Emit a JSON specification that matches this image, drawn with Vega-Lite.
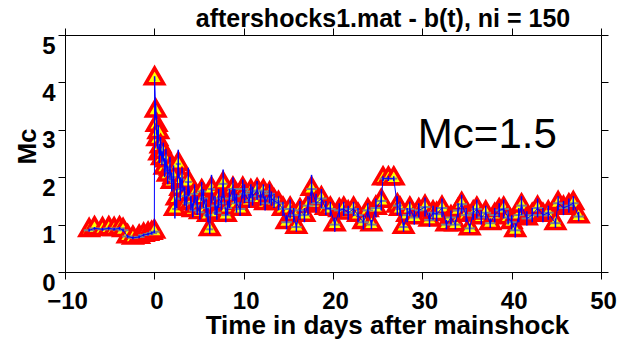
{
"$schema": "https://vega.github.io/schema/vega-lite/v6.json",
"width": 536, "height": 237,
"autosize": {"type": "none"},
"padding": {"left": 65, "top": 35, "right": 31, "bottom": 67},
"background": "white",
"title": {"text": "aftershocks1.mat - b(t), ni = 150", "font": "Liberation Sans", "fontSize": 25, "fontWeight": "bold", "color": "black", "anchor": "middle", "dx": 50, "dy": 12, "offset": 8, "frame": "group"},
"config": {"view": {"stroke": "black", "strokeWidth": 1},
  "axis": {"domainColor": "black", "tickColor": "black", "labelColor": "black", "titleColor": "black", "labelFont": "Liberation Sans", "titleFont": "Liberation Sans", "labelFontWeight": "bold", "titleFontWeight": "bold", "labelFontSize": 24, "titleFontSize": 26, "tickSize": 7, "grid": false}},
"data": {"values": [
{"t":-7.3,"mc":0.88,"lo":0.85,"hi":0.91,"t0":-7.9,"t1":-6.7},
{"t":-6.7,"mc":0.92,"lo":0.89,"hi":0.95,"t0":-7.3,"t1":-6.1},
{"t":-5.8,"mc":0.90,"lo":0.87,"hi":0.93,"t0":-6.4,"t1":-5.2},
{"t":-5.1,"mc":0.92,"lo":0.89,"hi":0.95,"t0":-5.7,"t1":-4.5},
{"t":-4.5,"mc":0.90,"lo":0.87,"hi":0.93,"t0":-5.1,"t1":-3.9},
{"t":-3.9,"mc":0.92,"lo":0.89,"hi":0.95,"t0":-4.5,"t1":-3.3},
{"t":-3.5,"mc":0.88,"lo":0.85,"hi":0.91,"t0":-4.1,"t1":-2.9},
{"t":-3.0,"mc":0.75,"lo":0.72,"hi":0.78,"t0":-3.6,"t1":-2.4},
{"t":-2.4,"mc":0.72,"lo":0.69,"hi":0.75,"t0":-3.0,"t1":-1.8},
{"t":-1.7,"mc":0.74,"lo":0.71,"hi":0.77,"t0":-2.3,"t1":-1.1},
{"t":-1.2,"mc":0.78,"lo":0.75,"hi":0.81,"t0":-1.8,"t1":-0.6},
{"t":-0.7,"mc":0.80,"lo":0.77,"hi":0.83,"t0":-1.3,"t1":-0.1},
{"t":-0.3,"mc":0.82,"lo":0.79,"hi":0.85,"t0":-0.9,"t1":0.3},
{"t":0.0,"mc":0.85,"lo":0.82,"hi":0.88,"t0":-0.6,"t1":0.6},
{"t":0.03,"mc":4.08,"lo":4.03,"hi":4.13,"t0":-0.02,"t1":0.08},
{"t":0.15,"mc":3.40,"lo":3.25,"hi":3.55,"t0":0.07,"t1":0.23},
{"t":0.25,"mc":3.10,"lo":2.9,"hi":3.3,"t0":0.17,"t1":0.33},
{"t":0.33,"mc":2.80,"lo":2.6,"hi":3.0,"t0":0.25,"t1":0.41},
{"t":0.45,"mc":2.95,"lo":2.8,"hi":3.1,"t0":0.37,"t1":0.53},
{"t":0.55,"mc":2.50,"lo":2.3,"hi":2.7,"t0":0.45,"t1":0.65},
{"t":0.7,"mc":2.65,"lo":2.45,"hi":2.85,"t0":0.6,"t1":0.8},
{"t":0.85,"mc":2.40,"lo":2.25,"hi":2.55,"t0":0.75,"t1":0.95},
{"t":1.0,"mc":2.53,"lo":2.33,"hi":2.73,"t0":0.9,"t1":1.1},
{"t":1.15,"mc":2.20,"lo":2.0,"hi":2.4,"t0":1.0,"t1":1.3},
{"t":1.3,"mc":2.35,"lo":2.1,"hi":2.6,"t0":1.15,"t1":1.45},
{"t":1.5,"mc":2.05,"lo":1.85,"hi":2.25,"t0":1.3,"t1":1.7},
{"t":1.75,"mc":2.18,"lo":1.93,"hi":2.43,"t0":1.55,"t1":1.95},
{"t":1.95,"mc":1.90,"lo":1.7,"hi":2.1,"t0":1.75,"t1":2.15},
{"t":2.15,"mc":2.00,"lo":1.75,"hi":2.25,"t0":1.9,"t1":2.4},
{"t":2.3,"mc":1.33,"lo":1.13,"hi":1.53,"t0":2.0,"t1":2.6},
{"t":2.5,"mc":1.55,"lo":1.35,"hi":1.75,"t0":2.2,"t1":2.8},
{"t":2.68,"mc":2.28,"lo":1.98,"hi":2.58,"t0":2.4,"t1":2.96},
{"t":2.9,"mc":1.75,"lo":1.5,"hi":2.0,"t0":2.6,"t1":3.2},
{"t":3.1,"mc":1.95,"lo":1.7,"hi":2.2,"t0":2.8,"t1":3.4},
{"t":3.4,"mc":1.60,"lo":1.4,"hi":1.8,"t0":3.0,"t1":3.8},
{"t":3.6,"mc":1.45,"lo":1.3,"hi":1.6,"t0":3.2,"t1":4.0},
{"t":3.8,"mc":1.90,"lo":1.6,"hi":2.2,"t0":3.4,"t1":4.2},
{"t":4.1,"mc":1.45,"lo":1.3,"hi":1.6,"t0":3.7,"t1":4.5},
{"t":4.3,"mc":1.30,"lo":1.15,"hi":1.45,"t0":3.9,"t1":4.7},
{"t":4.5,"mc":1.65,"lo":1.45,"hi":1.85,"t0":4.1,"t1":4.9},
{"t":4.8,"mc":1.40,"lo":1.2,"hi":1.6,"t0":4.4,"t1":5.2},
{"t":5.1,"mc":1.26,"lo":1.11,"hi":1.41,"t0":4.6,"t1":5.6},
{"t":5.3,"mc":1.70,"lo":1.5,"hi":1.9,"t0":4.8,"t1":5.8},
{"t":5.5,"mc":1.55,"lo":1.35,"hi":1.75,"t0":5.0,"t1":6.0},
{"t":5.8,"mc":1.35,"lo":1.15,"hi":1.55,"t0":5.3,"t1":6.3},
{"t":6.0,"mc":1.20,"lo":1.05,"hi":1.35,"t0":5.5,"t1":6.5},
{"t":6.2,"mc":0.90,"lo":0.8,"hi":1.0,"t0":5.8,"t1":6.6},
{"t":6.4,"mc":1.75,"lo":1.45,"hi":2.05,"t0":6.0,"t1":6.8},
{"t":6.8,"mc":1.40,"lo":1.2,"hi":1.6,"t0":6.3,"t1":7.3},
{"t":7.0,"mc":1.25,"lo":1.1,"hi":1.4,"t0":6.5,"t1":7.5},
{"t":7.2,"mc":1.55,"lo":1.35,"hi":1.75,"t0":6.7,"t1":7.7},
{"t":7.5,"mc":1.45,"lo":1.3,"hi":1.6,"t0":7.0,"t1":8.0},
{"t":7.7,"mc":1.86,"lo":1.56,"hi":2.16,"t0":7.2,"t1":8.2},
{"t":8.0,"mc":1.20,"lo":1.05,"hi":1.35,"t0":7.5,"t1":8.5},
{"t":8.2,"mc":1.35,"lo":1.2,"hi":1.5,"t0":7.7,"t1":8.7},
{"t":8.4,"mc":1.55,"lo":1.35,"hi":1.75,"t0":7.9,"t1":8.9},
{"t":8.8,"mc":1.75,"lo":1.5,"hi":2.0,"t0":8.2,"t1":9.4},
{"t":9.0,"mc":1.60,"lo":1.45,"hi":1.75,"t0":8.4,"t1":9.6},
{"t":9.2,"mc":1.45,"lo":1.25,"hi":1.65,"t0":8.6,"t1":9.8},
{"t":9.6,"mc":1.33,"lo":1.18,"hi":1.48,"t0":9.0,"t1":10.2},
{"t":9.9,"mc":1.75,"lo":1.55,"hi":1.95,"t0":9.3,"t1":10.5},
{"t":10.1,"mc":1.65,"lo":1.45,"hi":1.85,"t0":9.5,"t1":10.7},
{"t":10.6,"mc":1.50,"lo":1.35,"hi":1.65,"t0":10.0,"t1":11.2},
{"t":10.8,"mc":1.70,"lo":1.55,"hi":1.85,"t0":10.2,"t1":11.4},
{"t":11.0,"mc":1.60,"lo":1.4,"hi":1.8,"t0":10.4,"t1":11.6},
{"t":11.5,"mc":1.72,"lo":1.52,"hi":1.92,"t0":10.9,"t1":12.1},
{"t":11.9,"mc":1.55,"lo":1.4,"hi":1.7,"t0":11.3,"t1":12.5},
{"t":12.2,"mc":1.70,"lo":1.55,"hi":1.85,"t0":11.6,"t1":12.8},
{"t":12.4,"mc":1.45,"lo":1.3,"hi":1.6,"t0":11.8,"t1":13.0},
{"t":12.9,"mc":1.65,"lo":1.45,"hi":1.85,"t0":12.3,"t1":13.5},
{"t":13.1,"mc":1.55,"lo":1.4,"hi":1.7,"t0":12.5,"t1":13.7},
{"t":13.4,"mc":1.50,"lo":1.35,"hi":1.65,"t0":12.8,"t1":14.0},
{"t":13.9,"mc":1.45,"lo":1.3,"hi":1.6,"t0":13.3,"t1":14.5},
{"t":14.4,"mc":1.33,"lo":1.18,"hi":1.48,"t0":13.8,"t1":15.0},
{"t":14.8,"mc":1.05,"lo":0.9,"hi":1.2,"t0":14.2,"t1":15.4},
{"t":15.2,"mc":1.33,"lo":1.13,"hi":1.53,"t0":14.6,"t1":15.8},
{"t":15.6,"mc":1.20,"lo":1.05,"hi":1.35,"t0":15.0,"t1":16.2},
{"t":15.9,"mc":0.95,"lo":0.85,"hi":1.05,"t0":15.3,"t1":16.5},
{"t":16.3,"mc":1.30,"lo":1.1,"hi":1.5,"t0":15.7,"t1":16.9},
{"t":16.8,"mc":1.20,"lo":1.05,"hi":1.35,"t0":16.2,"t1":17.4},
{"t":17.2,"mc":1.40,"lo":1.2,"hi":1.6,"t0":16.6,"t1":17.8},
{"t":17.6,"mc":1.75,"lo":1.45,"hi":2.05,"t0":17.0,"t1":18.2},
{"t":18.1,"mc":1.45,"lo":1.25,"hi":1.65,"t0":17.5,"t1":18.7},
{"t":18.7,"mc":1.55,"lo":1.35,"hi":1.75,"t0":18.1,"t1":19.3},
{"t":19.2,"mc":1.35,"lo":1.2,"hi":1.5,"t0":18.6,"t1":19.8},
{"t":19.7,"mc":1.33,"lo":1.18,"hi":1.48,"t0":19.1,"t1":20.3},
{"t":20.2,"mc":1.00,"lo":0.85,"hi":1.15,"t0":19.6,"t1":20.8},
{"t":20.7,"mc":1.30,"lo":1.15,"hi":1.45,"t0":20.1,"t1":21.3},
{"t":21.2,"mc":1.33,"lo":1.18,"hi":1.48,"t0":20.6,"t1":21.8},
{"t":21.7,"mc":1.25,"lo":1.1,"hi":1.4,"t0":21.1,"t1":22.3},
{"t":22.3,"mc":1.33,"lo":1.18,"hi":1.48,"t0":21.7,"t1":22.9},
{"t":22.8,"mc":1.20,"lo":1.05,"hi":1.35,"t0":22.2,"t1":23.4},
{"t":23.4,"mc":1.05,"lo":0.9,"hi":1.2,"t0":22.8,"t1":24.0},
{"t":23.9,"mc":1.30,"lo":1.15,"hi":1.45,"t0":23.3,"t1":24.5},
{"t":24.3,"mc":1.00,"lo":0.9,"hi":1.1,"t0":23.7,"t1":24.9},
{"t":24.8,"mc":1.35,"lo":1.15,"hi":1.55,"t0":24.2,"t1":25.4},
{"t":25.4,"mc":1.50,"lo":1.3,"hi":1.7,"t0":24.8,"t1":26.0},
{"t":25.6,"mc":1.97,"lo":1.92,"hi":2.02,"t0":25.2,"t1":26.0},
{"t":26.2,"mc":1.97,"lo":1.92,"hi":2.02,"t0":25.8,"t1":26.6},
{"t":26.8,"mc":1.97,"lo":1.92,"hi":2.02,"t0":26.4,"t1":27.2},
{"t":27.2,"mc":1.40,"lo":1.2,"hi":1.6,"t0":26.7,"t1":27.7},
{"t":27.5,"mc":1.33,"lo":1.18,"hi":1.48,"t0":27.0,"t1":28.0},
{"t":27.9,"mc":0.95,"lo":0.85,"hi":1.05,"t0":27.4,"t1":28.4},
{"t":28.3,"mc":1.20,"lo":1.05,"hi":1.35,"t0":27.8,"t1":28.8},
{"t":28.6,"mc":1.33,"lo":1.18,"hi":1.48,"t0":28.1,"t1":29.1},
{"t":29.1,"mc":1.15,"lo":1.0,"hi":1.3,"t0":28.6,"t1":29.6},
{"t":29.6,"mc":1.30,"lo":1.15,"hi":1.45,"t0":29.1,"t1":30.1},
{"t":30.3,"mc":1.37,"lo":1.17,"hi":1.57,"t0":29.7,"t1":30.9},
{"t":30.8,"mc":1.10,"lo":0.95,"hi":1.25,"t0":30.2,"t1":31.4},
{"t":31.2,"mc":1.25,"lo":1.1,"hi":1.4,"t0":30.6,"t1":31.8},
{"t":31.6,"mc":1.22,"lo":1.07,"hi":1.37,"t0":31.0,"t1":32.2},
{"t":32.2,"mc":1.35,"lo":1.15,"hi":1.55,"t0":31.6,"t1":32.8},
{"t":32.7,"mc":1.00,"lo":0.9,"hi":1.1,"t0":32.1,"t1":33.3},
{"t":33.2,"mc":1.15,"lo":1.0,"hi":1.3,"t0":32.6,"t1":33.8},
{"t":33.7,"mc":1.00,"lo":0.9,"hi":1.1,"t0":33.1,"t1":34.3},
{"t":34.0,"mc":1.30,"lo":1.15,"hi":1.45,"t0":33.4,"t1":34.6},
{"t":34.4,"mc":1.43,"lo":1.23,"hi":1.63,"t0":33.8,"t1":35.0},
{"t":34.9,"mc":1.20,"lo":1.05,"hi":1.35,"t0":34.3,"t1":35.5},
{"t":35.3,"mc":0.92,"lo":0.82,"hi":1.02,"t0":34.7,"t1":35.9},
{"t":35.7,"mc":1.25,"lo":1.1,"hi":1.4,"t0":35.1,"t1":36.3},
{"t":36.1,"mc":1.33,"lo":1.13,"hi":1.53,"t0":35.5,"t1":36.7},
{"t":36.6,"mc":1.15,"lo":1.0,"hi":1.3,"t0":36.0,"t1":37.2},
{"t":37.1,"mc":1.25,"lo":1.1,"hi":1.4,"t0":36.5,"t1":37.7},
{"t":37.6,"mc":1.03,"lo":0.93,"hi":1.13,"t0":37.0,"t1":38.2},
{"t":38.1,"mc":1.20,"lo":1.05,"hi":1.35,"t0":37.5,"t1":38.7},
{"t":38.6,"mc":1.30,"lo":1.15,"hi":1.45,"t0":38.0,"t1":39.2},
{"t":39.1,"mc":1.33,"lo":1.13,"hi":1.53,"t0":38.5,"t1":39.7},
{"t":39.6,"mc":1.15,"lo":1.0,"hi":1.3,"t0":39.0,"t1":40.2},
{"t":40.0,"mc":1.05,"lo":0.9,"hi":1.2,"t0":39.4,"t1":40.6},
{"t":40.4,"mc":0.88,"lo":0.73,"hi":1.03,"t0":39.8,"t1":41.0},
{"t":40.8,"mc":1.20,"lo":1.05,"hi":1.35,"t0":40.2,"t1":41.4},
{"t":41.1,"mc":1.40,"lo":1.2,"hi":1.6,"t0":40.5,"t1":41.7},
{"t":41.7,"mc":1.13,"lo":0.98,"hi":1.28,"t0":41.1,"t1":42.3},
{"t":42.3,"mc":1.20,"lo":1.05,"hi":1.35,"t0":41.7,"t1":42.9},
{"t":42.9,"mc":1.35,"lo":1.15,"hi":1.55,"t0":42.3,"t1":43.5},
{"t":43.5,"mc":1.20,"lo":1.05,"hi":1.35,"t0":42.9,"t1":44.1},
{"t":44.1,"mc":1.25,"lo":1.1,"hi":1.4,"t0":43.5,"t1":44.7},
{"t":44.9,"mc":1.03,"lo":0.93,"hi":1.13,"t0":44.3,"t1":45.5},
{"t":45.2,"mc":1.45,"lo":1.3,"hi":1.6,"t0":44.6,"t1":45.8},
{"t":45.8,"mc":1.35,"lo":1.2,"hi":1.5,"t0":45.2,"t1":46.4},
{"t":46.4,"mc":1.40,"lo":1.25,"hi":1.55,"t0":45.8,"t1":47.0},
{"t":46.9,"mc":1.45,"lo":1.3,"hi":1.6,"t0":46.3,"t1":47.5},
{"t":47.5,"mc":1.17,"lo":1.07,"hi":1.27,"t0":46.9,"t1":48.1}
]},
"layer": [
 {"mark": {"type": "point", "shape": "M0,-1.155L1,0.577L-1,0.577Z", "filled": true, "fill": "#ffff00", "stroke": "#ff0000", "strokeWidth": 3.5, "size": 330, "opacity": 1},
  "encoding": {
   "x": {"field": "t", "type": "quantitative", "scale": {"domain": [-10, 50], "nice": false, "zero": false},
     "axis": {"orient": "bottom", "values": [-10, 0, 10, 20, 30, 40, 50], "labelPadding": 10, "labelOffset": 2, "labelFlush": false, "title": "Time in days after mainshock", "titleX": 322, "titleY": 61, "titleBaseline": "alphabetic"}},
   "y": {"field": "mc", "type": "quantitative", "scale": {"domain": [0, 5], "nice": false, "zero": false},
     "axis": {"orient": "left", "values": [0, 1, 2, 3, 4, 5], "labelPadding": 3, "labelBaseline": "top", "labelOffset": -1, "labelFlush": false, "title": "Mc", "titleX": -30, "titleY": 111, "titleBaseline": "alphabetic", "titleAngle": 270}}}},
 {"mark": {"type": "rule", "color": "#808080", "strokeWidth": 2},
  "encoding": {"x": {"field": "t0", "type": "quantitative", "axis": null}, "x2": {"field": "t1"}, "y": {"field": "mc", "type": "quantitative", "axis": null}}},
 {"mark": {"type": "line", "color": "#0000ff", "strokeWidth": 1},
  "encoding": {
   "x": {"field": "t", "type": "quantitative", "axis": {"orient": "top", "values": [-10, 0, 10, 20, 30, 40, 50], "labels": false, "title": null, "domain": false}},
   "y": {"field": "mc", "type": "quantitative", "axis": {"orient": "right", "values": [0, 1, 2, 3, 4, 5], "labels": false, "title": null, "domain": false}}}},
 {"mark": {"type": "rule", "color": "#0000ff", "strokeWidth": 1.5},
  "encoding": {"x": {"field": "t", "type": "quantitative", "axis": null}, "y": {"field": "lo", "type": "quantitative", "axis": null}, "y2": {"field": "hi"}}},
 {"data": {"values": [{"x": 29.5, "y": 2.61, "label": "Mc=1.5"}]},
  "mark": {"type": "text", "align": "left", "baseline": "alphabetic", "font": "Liberation Sans", "fontSize": 42, "color": "black"},
  "encoding": {"x": {"field": "x", "type": "quantitative", "axis": null}, "y": {"field": "y", "type": "quantitative", "axis": null}, "text": {"field": "label"}}}
],
"resolve": {"axis": {"x": "independent", "y": "independent"}}
}
